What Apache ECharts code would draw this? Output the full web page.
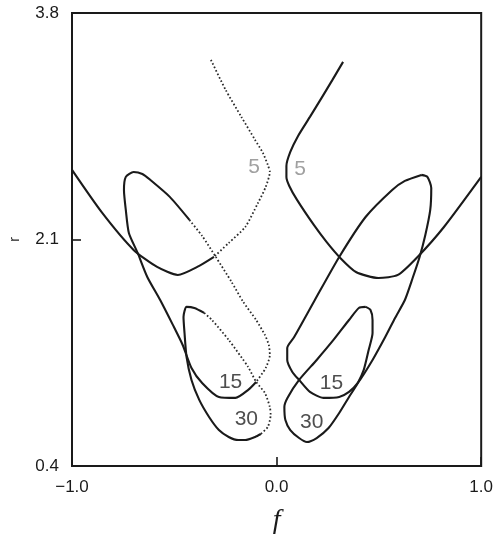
<!DOCTYPE html>
<html>
<head>
<meta charset="utf-8">
<script src="https://cdn.jsdelivr.net/npm/echarts@6/dist/echarts.min.js"></script>
<style>
  html, body { margin: 0; padding: 0; background: #fff; }
  #chart { width: 496px; height: 545px; }
</style>
</head>
<body>
<div id="chart"></div>
<script>
// Axis ranges and tick labels
const fRange = [-1.0, 1.0];
const rRange = [0.4, 3.8];
const fTickStep = 1.0;
const rTickStep = 1.7;

// Trajectories in the (f, r) plane, each as [f, r] points in drawing order.
// n = 5, right branch (solid)
const right5 = [
  [0.325, 3.433], [0.273, 3.298], [0.220, 3.163], [0.163, 3.020], [0.105, 2.877],
  [0.067, 2.757], [0.048, 2.652], [0.048, 2.569], [0.062, 2.502], [0.100, 2.397],
  [0.182, 2.209], [0.244, 2.082], [0.311, 1.962], [0.388, 1.856], [0.498, 1.811],
  [0.593, 1.834], [0.689, 1.969], [0.818, 2.194], [1.000, 2.570]
];
// n = 5, left branch: dotted part then solid part
const left5Dotted = [
  [-0.321, 3.448], [-0.249, 3.223], [-0.172, 3.020], [-0.105, 2.847], [-0.067, 2.750],
  [-0.043, 2.660], [-0.033, 2.607], [-0.053, 2.495], [-0.091, 2.374], [-0.153, 2.194],
  [-0.234, 2.074], [-0.306, 1.969]
];
const left5Solid = [
  [-0.306, 1.969], [-0.378, 1.902], [-0.483, 1.834], [-0.584, 1.894], [-0.699, 2.022],
  [-0.856, 2.307], [-1.000, 2.622]
];

// n = 15, right loop (solid, closed)
const right15 = [
  [0.708, 2.585], [0.737, 2.570], [0.756, 2.487], [0.751, 2.322], [0.727, 2.134],
  [0.699, 1.969], [0.665, 1.811], [0.627, 1.646], [0.579, 1.511], [0.531, 1.368],
  [0.469, 1.196], [0.397, 1.023], [0.354, 0.956], [0.306, 0.918], [0.230, 0.911],
  [0.163, 0.956], [0.110, 1.046], [0.077, 1.106], [0.052, 1.196], [0.052, 1.286],
  [0.086, 1.368], [0.187, 1.646], [0.306, 1.969], [0.435, 2.269], [0.565, 2.472],
  [0.627, 2.540], [0.708, 2.585]
];
// n = 15, left loop
const left15Dotted = [
  [-0.426, 2.247], [-0.364, 2.127], [-0.297, 1.969], [-0.220, 1.781], [-0.163, 1.631],
  [-0.100, 1.496], [-0.057, 1.383], [-0.038, 1.308], [-0.033, 1.233], [-0.053, 1.136],
  [-0.100, 1.031]
];
const left15Solid = [
  [-0.100, 1.031], [-0.139, 0.971], [-0.201, 0.911], [-0.282, 0.918], [-0.364, 1.023],
  [-0.416, 1.136], [-0.459, 1.308], [-0.507, 1.459], [-0.569, 1.646], [-0.632, 1.819],
  [-0.679, 1.999], [-0.722, 2.149], [-0.737, 2.322], [-0.746, 2.472], [-0.737, 2.570],
  [-0.699, 2.607], [-0.656, 2.592], [-0.617, 2.547], [-0.522, 2.420], [-0.426, 2.247]
];

// n = 30, right loop (solid, closed)
const right30 = [
  [0.435, 1.594], [0.459, 1.571], [0.469, 1.496], [0.469, 1.398], [0.450, 1.271],
  [0.426, 1.121], [0.397, 1.023], [0.354, 0.918], [0.306, 0.798], [0.254, 0.685],
  [0.196, 0.610], [0.148, 0.580], [0.110, 0.610], [0.067, 0.670], [0.043, 0.745],
  [0.038, 0.843], [0.053, 0.911], [0.110, 1.046], [0.196, 1.196], [0.278, 1.346],
  [0.354, 1.496], [0.402, 1.586], [0.435, 1.594]
];
// n = 30, left loop
const left30Dotted = [
  [-0.354, 1.549], [-0.316, 1.496], [-0.234, 1.346], [-0.139, 1.143], [-0.100, 1.031],
  [-0.057, 0.948], [-0.033, 0.843], [-0.029, 0.783], [-0.043, 0.693], [-0.077, 0.640]
];
const left30Solid = [
  [-0.077, 0.640], [-0.105, 0.618], [-0.153, 0.595], [-0.187, 0.595], [-0.234, 0.618],
  [-0.282, 0.670], [-0.330, 0.768], [-0.378, 0.896], [-0.416, 1.046], [-0.440, 1.218],
  [-0.450, 1.398], [-0.455, 1.519], [-0.440, 1.594], [-0.402, 1.586], [-0.354, 1.549]
];

// Curve tags: [f, r, text]
const darkTags = [
  [-0.225, 1.03, '15'], [0.268, 1.02, '15'],
  [-0.148, 0.753, '30'], [0.172, 0.73, '30']
];
const lightTags = [
  [-0.110, 2.64, '5'], [0.115, 2.63, '5']
];

const INK = '#1a1a1a';
const SMOOTH = 0.22;
const solid = (data) => ({
  type: 'line', data, smooth: SMOOTH, symbol: 'none', silent: true,
  lineStyle: { color: INK, width: 2.1 }
});
const dotted = (data) => ({
  type: 'line', data, smooth: SMOOTH, symbol: 'none', silent: true,
  lineStyle: { color: '#2a2a2a', width: 1.8, type: [1.6, 2.2] }
});
const tags = (data, color) => ({
  type: 'scatter', data, symbolSize: 0, silent: true,
  label: {
    show: true, position: 'inside', formatter: p => p.value[2],
    color, fontSize: 21, fontFamily: 'Liberation Sans'
  }
});

const fmt = v => v.toFixed(1).replace('-', '\u2212');
const tickLabel = { formatter: fmt, fontSize: 17, color: INK, fontFamily: 'Liberation Sans', margin: 13 };
const tickMark = { show: true, inside: true, length: 9, lineStyle: { color: INK, width: 1.6 } };

const chart = echarts.init(document.getElementById('chart'), null, { renderer: 'canvas' });
chart.setOption({
  animation: false,
  backgroundColor: '#fff',
  grid: {
    left: 70, right: 8, top: 13, bottom: 79,
    show: true, borderColor: INK, borderWidth: 2, backgroundColor: 'transparent'
  },
  xAxis: {
    type: 'value', min: fRange[0], max: fRange[1], interval: fTickStep,
    name: 'f', nameLocation: 'middle', nameGap: 41,
    nameTextStyle: { fontFamily: 'Liberation Serif', fontStyle: 'italic', fontSize: 28, color: INK },
    axisLine: { show: false, onZero: false },
    axisTick: tickMark,
    axisLabel: tickLabel,
    splitLine: { show: false }
  },
  yAxis: {
    type: 'value', min: rRange[0], max: rRange[1], interval: rTickStep,
    name: 'r', nameLocation: 'middle', nameGap: 50, nameRotate: 90,
    nameTextStyle: { fontFamily: 'Liberation Sans', fontSize: 14, color: INK },
    axisLine: { show: false, onZero: false },
    axisTick: tickMark,
    axisLabel: tickLabel,
    splitLine: { show: false }
  },
  series: [
    solid(right5), dotted(left5Dotted), solid(left5Solid),
    solid(right15), dotted(left15Dotted), solid(left15Solid),
    solid(right30), dotted(left30Dotted), solid(left30Solid),
    tags(darkTags, '#222'),
    tags(lightTags, '#888')
  ]
});
</script>
</body>
</html>
